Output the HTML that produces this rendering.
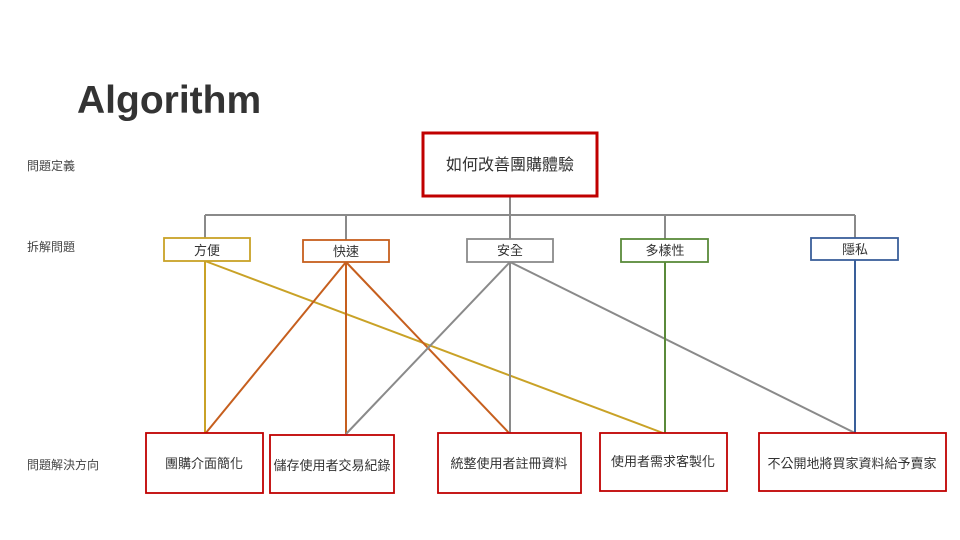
<!DOCTYPE html>
<html><head><meta charset="utf-8"><style>
html,body{margin:0;padding:0;background:#fff;width:960px;height:540px;overflow:hidden}
svg text{font-family:"Liberation Sans","Noto Sans CJK TC",sans-serif}
</style></head><body>
<svg width="960" height="540" viewBox="0 0 960 540" xmlns="http://www.w3.org/2000/svg">
<text x="77" y="113" font-size="39" font-weight="bold" fill="#333">Algorithm</text>
<g font-size="12" fill="#444">
<text x="27" y="170">問題定義</text>
<text x="27" y="251">拆解問題</text>
<text x="27" y="469">問題解決方向</text>
</g>
<g stroke="#8a8a8a" stroke-width="2" fill="none">
<path d="M510 196V215M205 215H855M205 215V238M346 215V240M510 215V239M665 215V239M855 215V238"/>
</g>
<g stroke-width="2" fill="none">
<path d="M205 261L205 434M205 261L663 433" stroke="#c9a227"/>
<path d="M346 262L205 434M346 262L346 434M346 262L510 434" stroke="#c65f1e"/>
<path d="M510 262L346 434M510 262L510 434M510 262L855 433" stroke="#8a8a8a"/>
<path d="M665 262L665 433" stroke="#5a8a3a"/>
<path d="M855 260L855 433" stroke="#3a5f9a"/>
</g>
<rect x="423" y="133" width="174" height="63" fill="#fff" stroke="#c00000" stroke-width="3"/>
<text x="510" y="170" font-size="16" text-anchor="middle" fill="#333">如何改善團購體驗</text>
<g stroke-width="1.8" fill="#fff">
<rect x="164" y="238" width="86" height="23" stroke="#c9a227"/>
<rect x="303" y="240" width="86" height="22" stroke="#c65f1e"/>
<rect x="467" y="239" width="86" height="23" stroke="#8a8a8a"/>
<rect x="621" y="239" width="87" height="23" stroke="#5a8a3a"/>
<rect x="811" y="238" width="87" height="22" stroke="#3a5f9a"/>
</g>
<g font-size="13" text-anchor="middle" fill="#333">
<text x="207" y="255">方便</text>
<text x="346" y="256">快速</text>
<text x="510" y="255">安全</text>
<text x="665" y="255">多樣性</text>
<text x="855" y="254">隱私</text>
</g>
<g stroke="#c00000" stroke-width="1.8" fill="#fff">
<rect x="146" y="433" width="117" height="60"/>
<rect x="270" y="435" width="124" height="58"/>
<rect x="438" y="433" width="143" height="60"/>
<rect x="600" y="433" width="127" height="58"/>
<rect x="759" y="433" width="187" height="58"/>
</g>
<g font-size="13" text-anchor="middle" fill="#333">
<text x="204" y="468">團購介面簡化</text>
<text x="332" y="470">儲存使用者交易紀錄</text>
<text x="509" y="468">統整使用者註冊資料</text>
<text x="663" y="466">使用者需求客製化</text>
<text x="852" y="468">不公開地將買家資料給予賣家</text>
</g>
</svg>
</body></html>
